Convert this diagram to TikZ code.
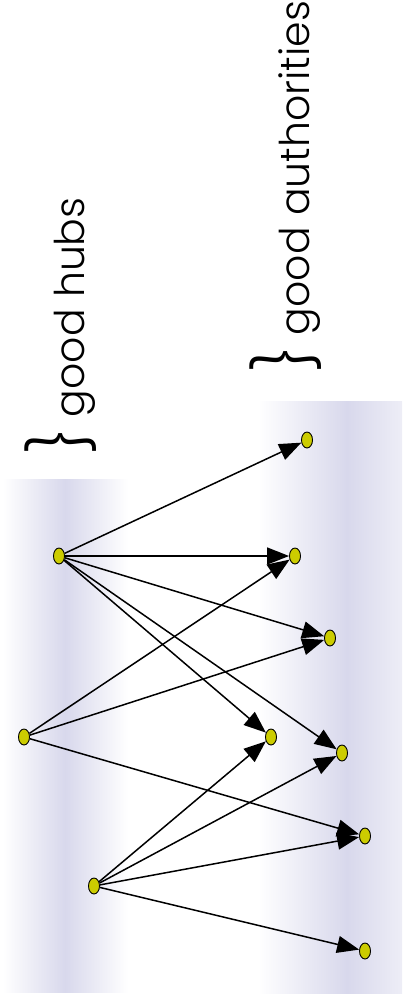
\documentclass[tikz,border=0pt]{standalone}
\usepackage{fontspec}
\setmainfont{Poppins}[UprightFont={* Light}]
\usepackage{xcolor}
\usetikzlibrary{shapes, arrows.meta, positioning}
\definecolor{lav}{RGB}{216,216,236}
\definecolor{nodeyellow}{RGB}{204,204,0}
\tikzset{
  vertex/.style={ellipse, draw=black, line width=0.9pt, fill=nodeyellow,
    minimum width=11pt, minimum height=16pt, inner sep=0pt},
  link/.style={draw=black, line width=1.5pt, -{Triangle[length=22pt,width=17pt]}},
  caption/.style={rotate=90, anchor=base west, inner sep=0pt, font=\fontsize{41}{41}\selectfont}
}
\begin{document}
\begin{tikzpicture}[x=1pt,y=-1pt]
        \useasboundingbox (0,0) rectangle (402,1002);
        % Bands
        \shade[left color=white, right color=lav] (3,479) rectangle (65,992);
        \shade[left color=lav, right color=white] (65,479) rectangle (128,992);
        \shade[left color=white, right color=lav] (258,401) rectangle (347,993);
        \shade[left color=lav, right color=lav!45] (347,401) rectangle (402,993);
        % Labels
        \node[caption] (hubtext) at (84,455) {{\fontsize{64}{64}\selectfont\}} good hubs};
        \node[caption] (authtext) at (309,373) {{\fontsize{64}{64}\selectfont\}} good authorities};
        % Hubs
        \node[vertex] (hub1) at (59,556) {};
        \node[vertex] (hub2) at (24,737) {};
        \node[vertex] (hub3) at (94,886) {};
        % Authorities
        \node[vertex] (auth1) at (307,440) {};
        \node[vertex] (auth2) at (295,556) {};
        \node[vertex] (auth3) at (330,638) {};
        \node[vertex] (auth4) at (271,737) {};
        \node[vertex] (auth5) at (342,753) {};
        \node[vertex] (auth6) at (365,836) {};
        \node[vertex] (auth7) at (365,951) {};
        % Links
        \foreach \a in {1,2,3,4,5}
            \draw[link] (hub1) -- (auth\a);
        \foreach \a in {2,3,6}
            \draw[link] (hub2) -- (auth\a);
        \foreach \a in {4,5,6,7}
            \draw[link] (hub3) -- (auth\a);
    \end{tikzpicture}
\end{document}
